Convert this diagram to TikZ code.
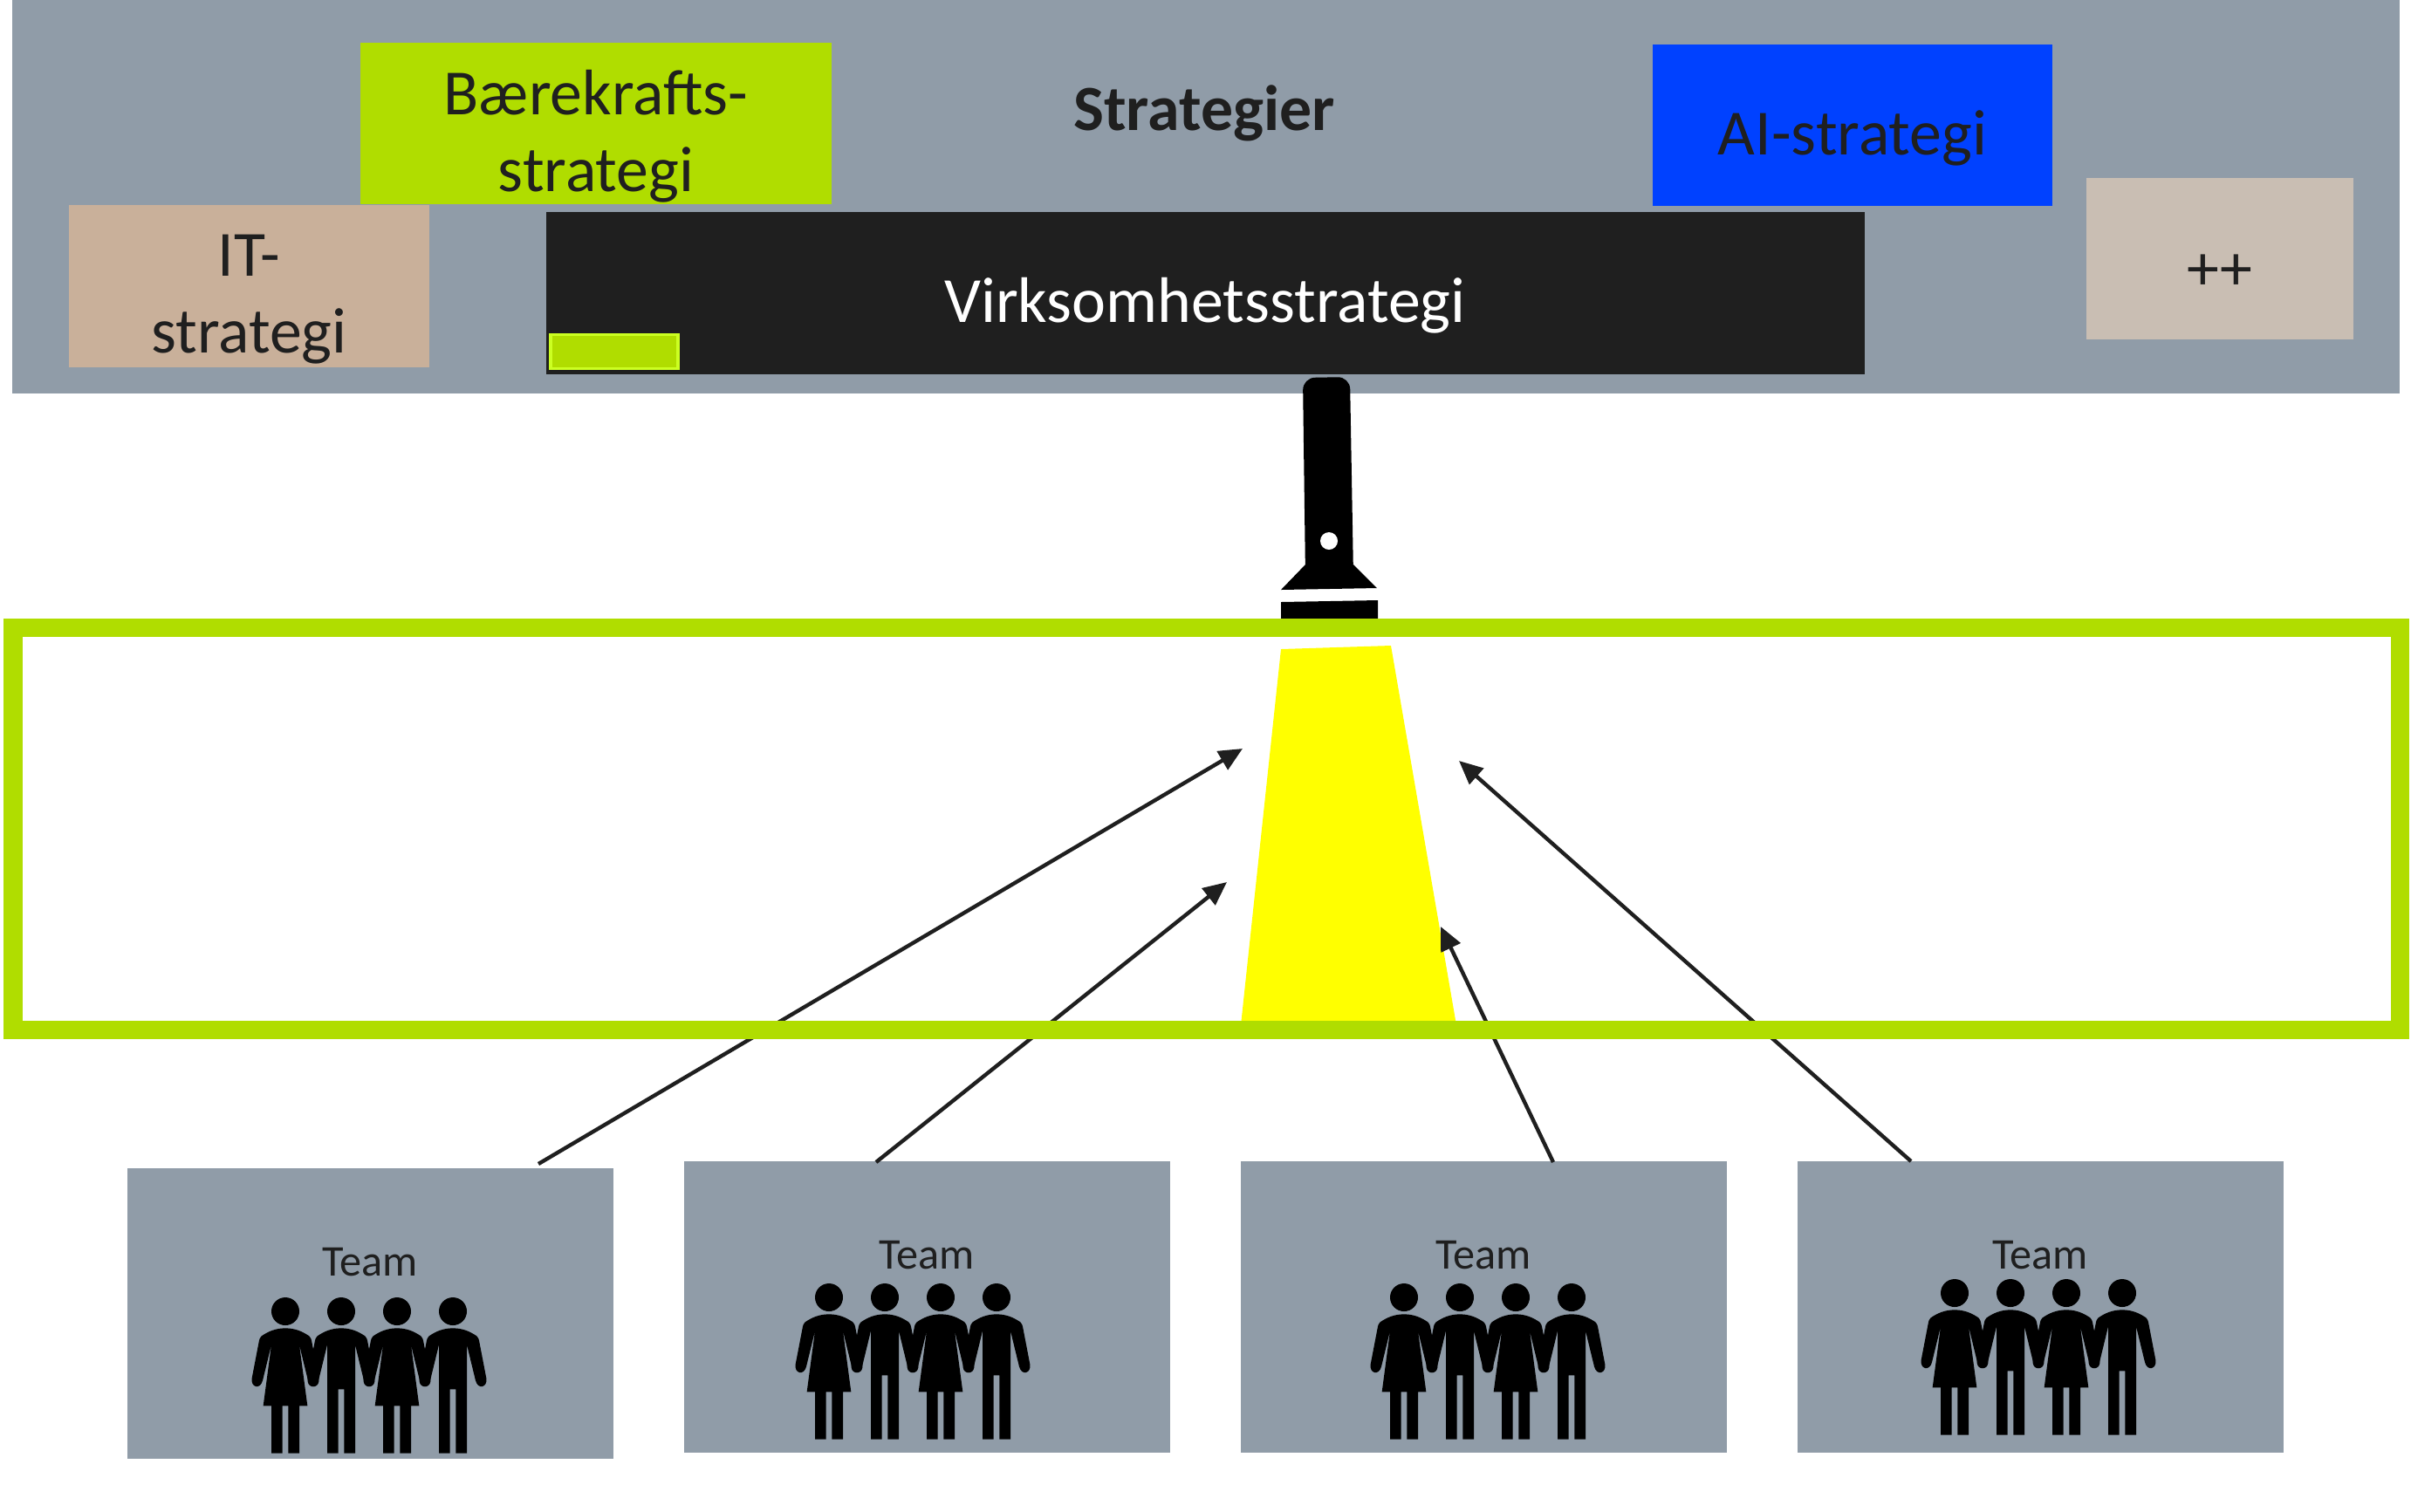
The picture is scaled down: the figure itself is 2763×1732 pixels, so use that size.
\documentclass[tikz,border=0pt]{standalone}
\usepackage{fontspec}
\setmainfont{Carlito}
\usetikzlibrary{arrows.meta}
\definecolor{bandgrey}{HTML}{909CA8}
\definecolor{limeg}{HTML}{B0DD00}
\definecolor{limeb}{HTML}{CCFF22}
\definecolor{tanbox}{HTML}{C9B09A}
\definecolor{darkbox}{HTML}{1F1F1F}
\definecolor{bluebox}{HTML}{0041FF}
\definecolor{plusbox}{HTML}{C9BEB3}
\definecolor{beam}{HTML}{FFFF00}
\newcommand\bigtxt{\fontsize{21}{25}\selectfont}
\newcommand\teamtxt{\fontsize{14.3}{17}\selectfont}
\tikzset{
  x=0.01cm,y=-0.01cm,
  boxn/.style={rectangle,inner sep=0pt,outer sep=0pt,text=darkbox,align=center,font=\bigtxt},
  teambox/.style={boxn,fill=bandgrey,minimum width=5.57cm,minimum height=3.33cm},
  teamlabel/.style={inner sep=0pt,text=darkbox,font=\teamtxt},
  flow/.style={draw=darkbox,line width=1.25pt,-{Stealth[length=0.27cm,width=0.24cm,inset=0pt]}},
  manfig/.pic={
    \fill[black] (0,0) circle (48);
    \fill[black] (0,58) .. controls (35,58) and (60,70) .. (82,85) .. controls (87,90) and (89,95) .. (90,100)
      -- (115,230) .. controls (120,262) and (86,270) .. (78,238) -- (48,115) -- (48,488) -- (10,488) -- (10,268)
      -- (-10,268) -- (-10,488) -- (-48,488) -- (-48,115) -- (-78,238) .. controls (-86,270) and (-120,262) .. (-115,230)
      -- (-90,100) .. controls (-89,95) and (-87,90) .. (-82,85) .. controls (-60,70) and (-35,58) .. (0,58) -- cycle;
  },
  womanfig/.pic={
    \fill[black] (0,0) circle (48);
    \fill[black] (0,58) .. controls (35,58) and (60,70) .. (82,85) .. controls (87,90) and (89,95) .. (90,100)
      -- (115,230) .. controls (120,262) and (86,270) .. (78,238) -- (48,115) -- (76,325) -- (48,325) -- (48,488) -- (10,488) -- (10,325)
      -- (-10,325) -- (-10,488) -- (-48,488) -- (-48,325) -- (-76,325) -- (-48,115) -- (-78,238) .. controls (-86,270) and (-120,262) .. (-115,230)
      -- (-90,100) .. controls (-89,95) and (-87,90) .. (-82,85) .. controls (-60,70) and (-35,58) .. (0,58) -- cycle;
  },
}
\newcommand\peoplerow[2]{%
  \pic[scale=1/3] at (#1,#2) {womanfig};
  \pic[scale=1/3] at ({#1+64},#2) {manfig};
  \pic[scale=1/3] at ({#1+128},#2) {womanfig};
  \pic[scale=1/3] at ({#1+192},#2) {manfig};
}
\begin{document}
\begin{tikzpicture}
\useasboundingbox[fill=white] (0,0) rectangle (2763,1732);
% top band
\fill[bandgrey] (14,0) rectangle (2750,451);
\node[boxn,fill=limeg,minimum width=5.40cm,minimum height=1.85cm] (baer) at (683,141.5) {};
\node[boxn] (baertxt) at (683,156) {Bærekrafts-\\strategi};
\node[boxn,fill=tanbox,minimum width=4.13cm,minimum height=1.86cm] (it) at (285.5,328) {};
\node[boxn] (ittxt) at (285.5,343) {IT-\\strategi};
\node[boxn,fill=darkbox,text=white,minimum width=15.11cm,minimum height=1.86cm] (virk) at (1381.5,336) {};
\node[boxn,text=white] (virktxt) at (1381,350) {Virksomhetsstrategi};
\node[boxn,fill=limeg,draw=limeb,line width=1pt,minimum width=1.46cm,minimum height=0.39cm] (small) at (704,403) {};
\node[boxn,fill=bluebox,minimum width=4.58cm,minimum height=1.85cm] (ai) at (2123,143.5) {};
\node[boxn] (aitxt) at (2123,158) {AI-strategi};
\node[boxn,fill=plusbox,minimum width=3.06cm,minimum height=1.85cm] (plus) at (2544,296.5) {};
\node[boxn] (plustxt) at (2544,312) {++};
\node[boxn,font=\bigtxt\bfseries] (strat) at (1380,130) {Strategier};
% flashlight
\fill[black,rounded corners=0.14cm] (1496,660) -- (1493,433) -- (1547,432) -- (1551,660) -- cycle;
\fill[black] (1496,647) -- (1551,647) -- (1578,674) -- (1468,676) -- cycle;
\fill[black] (1468,690) -- (1579,688) -- (1579,712) -- (1468,712) -- cycle;
\fill[white] (1523,620) circle (10);
% beam
\fill[beam] (1468,744) -- (1594,740) -- (1669,1175) -- (1422,1175) -- cycle;
% teams
\node[teambox] (t1) at (424.5,1505.5) {};
\node[teambox] (t2) at (1062.5,1498) {};
\node[teambox] (t3) at (1700.5,1498) {};
\node[teambox] (t4) at (2338.5,1498) {};
\node[teamlabel] (t1txt) at (424,1447) {Team};
\node[teamlabel] (t2txt) at (1062,1439) {Team};
\node[teamlabel] (t3txt) at (1700,1439) {Team};
\node[teamlabel] (t4txt) at (2338,1439) {Team};
\peoplerow{327}{1503}
\peoplerow{950}{1487}
\peoplerow{1609}{1487}
\peoplerow{2240}{1482}
% connectors
\coordinate (a1s) at (617,1334); \coordinate (a1e) at (1424,858);
\coordinate (a2s) at (1004,1332); \coordinate (a2e) at (1406,1011);
\coordinate (a3s) at (1780,1332); \coordinate (a3e) at (1651,1062);
\coordinate (a4s) at (2190,1331); \coordinate (a4e) at (1672,872);
\draw[flow] (a1s) -- (a1e);
\draw[flow] (a2s) -- (a2e);
\draw[flow] (a3s) -- (a3e);
\draw[flow] (a4s) -- (a4e);
% frame
\draw[limeg,line width=0.21cm] (15,719.5) rectangle (2750,1180);
\end{tikzpicture}
\end{document}
